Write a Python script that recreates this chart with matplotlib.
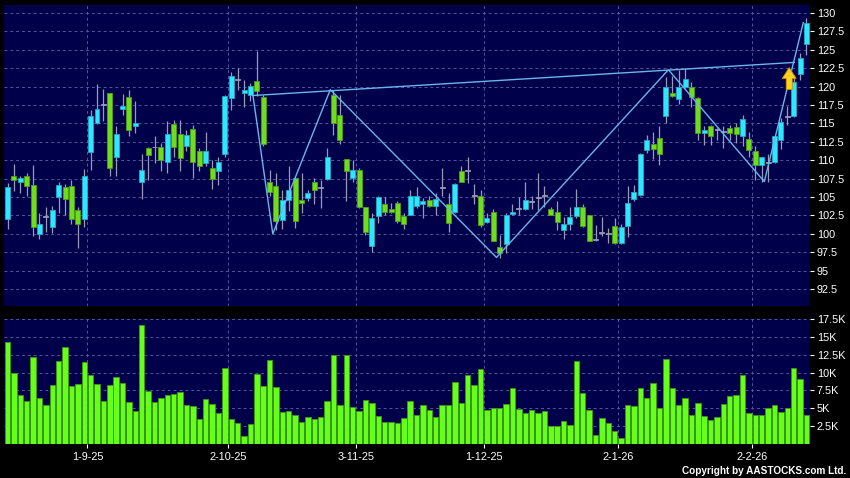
import numpy as np
import matplotlib
matplotlib.use('Agg')
import matplotlib.pyplot as plt
from matplotlib.ticker import FixedLocator, FuncFormatter

plt.rcParams['font.family'] = ['Liberation Sans', 'DejaVu Sans']

# daily OHLC (126 trading days)
opens = [102.0, 107.9, 107.1, 107.8, 106.6, 100.0, 102.4, 101.0, 105.0, 106.35,
         106.5, 103.3, 102.0, 111.1, 115.1, 117.6, 119.1, 110.5, 117.0, 118.6,
         114.7, 107.1, 111.65, 111.8, 111.8, 109.75, 114.9, 113.55, 111.9, 114.25,
         111.2, 109.6, 108.9, 108.6, 110.9, 118.45, 120.95, 119.15, 118.9, 120.8,
         118.6, 107.0, 106.45, 101.9, 104.65, 107.6, 104.65, 104.85, 107.0, 106.3,
         107.45, 118.9, 116.2, 110.15, 107.6, 108.7, 103.6, 98.3, 102.45, 104.0,
         103.35, 104.2, 102.4, 102.6, 103.8, 104.0, 104.65, 103.8, 106.3, 104.0,
         102.95, 108.6, 108.6, 105.2, 105.2, 101.6, 102.95, 98.2, 98.6, 102.7,
         103.5, 103.35, 104.4, 105.0, 105.2, 103.35, 103.0, 100.5, 101.4, 102.4,
         103.7, 102.5, 99.2, 100.2, 100.0, 101.1, 98.8, 101.1, 104.7, 105.3,
         111.35, 112.25, 113.0, 115.95, 119.2, 118.3, 120.0, 120.0, 118.45, 113.7,
         114.6, 114.15, 113.9, 114.4, 114.5, 113.25, 112.9, 111.2, 109.4, 109.7,
         109.7, 112.8, 116.0, 116.0, 121.75, 125.8]
highs = [106.9, 109.5, 107.8, 108.3, 109.4, 102.8, 103.6, 103.8, 107.0, 106.8,
         107.35, 103.7, 108.8, 116.9, 120.4, 119.7, 119.2, 114.6, 119.0, 119.6,
         118.1, 110.9, 111.75, 113.25, 112.4, 115.4, 115.5, 115.5, 114.15, 114.8,
         111.65, 113.9, 110.1, 110.5, 118.9, 122.05, 122.5, 120.95, 120.5, 124.8,
         118.9, 108.7, 108.25, 106.0, 109.25, 107.8, 108.25, 105.9, 107.6, 107.35,
         111.65, 119.6, 118.9, 110.2, 110.1, 108.9, 103.7, 102.8, 105.1, 105.0,
         104.2, 104.4, 102.8, 106.0, 106.35, 104.85, 105.1, 105.5, 108.9, 105.5,
         106.9, 109.25, 110.5, 106.8, 106.0, 102.8, 103.4, 99.9, 102.9, 104.0,
         105.0, 107.1, 105.1, 108.25, 106.5, 103.7, 104.4, 102.3, 103.6, 106.1,
         104.1, 102.6, 101.2, 102.3, 100.8, 102.15, 101.4, 106.5, 106.7, 111.0,
         113.45, 113.9, 114.6, 121.3, 121.5, 122.3, 122.5, 120.7, 118.6, 114.6,
         114.8, 114.4, 114.6, 114.8, 115.1, 116.2, 113.9, 111.9, 110.5, 110.9,
         113.45, 115.7, 117.4, 121.6, 124.6, 129.3]
lows = [100.65, 105.8, 105.5, 105.2, 99.75, 99.3, 100.2, 100.1, 102.8, 102.5,
        101.4, 98.1, 101.0, 108.7, 114.9, 115.3, 107.9, 107.8, 116.2, 113.3,
        113.7, 104.7, 107.35, 109.6, 108.6, 108.25, 110.5, 108.6, 111.2, 107.6,
        108.5, 109.2, 106.1, 106.7, 110.5, 116.85, 119.6, 117.2, 118.0, 118.7,
        111.9, 105.1, 100.55, 100.65, 103.05, 100.8, 102.8, 104.4, 104.1, 103.5,
        107.35, 113.5, 112.25, 104.4, 107.1, 103.5, 99.9, 97.6, 101.5, 102.6,
        102.8, 101.5, 100.65, 102.5, 103.5, 102.15, 103.7, 102.6, 105.1, 100.2,
        102.8, 107.0, 106.9, 104.1, 101.0, 101.5, 99.0, 96.7, 97.4, 102.5,
        102.6, 103.3, 103.4, 103.3, 103.7, 102.5, 100.55, 99.3, 100.5, 102.15,
        101.0, 99.0, 99.0, 99.65, 98.8, 98.65, 98.65, 99.6, 104.4, 105.2,
        111.0, 110.15, 109.4, 115.05, 118.6, 117.7, 119.8, 117.3, 112.8, 112.1,
        112.1, 112.8, 111.65, 112.8, 112.3, 111.9, 110.5, 107.35, 107.0, 107.1,
        109.6, 111.5, 114.8, 115.9, 120.95, 124.3]
closes = [106.4, 107.3, 107.6, 106.45, 101.0, 101.3, 102.4, 103.3, 106.6, 104.7,
          102.0, 101.3, 107.9, 116.05, 117.0, 117.6, 108.9, 113.6, 117.4, 114.15,
          115.05, 108.7, 110.7, 111.8, 110.1, 113.55, 111.8, 110.3, 113.45, 109.75,
          109.25, 111.2, 107.5, 109.7, 118.7, 121.4, 120.95, 119.6, 120.1, 119.35,
          112.25, 105.75, 101.7, 104.65, 106.0, 101.7, 104.2, 105.55, 105.9, 106.3,
          110.4, 115.05, 112.7, 108.5, 108.7, 103.6, 100.2, 102.15, 105.0, 103.0,
          103.0, 101.7, 101.4, 105.2, 105.2, 104.5, 103.8, 104.7, 106.3, 101.5,
          106.8, 107.1, 108.6, 105.2, 101.15, 102.15, 99.05, 97.4, 102.6, 103.0,
          103.5, 104.6, 104.4, 105.0, 105.2, 102.6, 101.55, 101.4, 102.3, 103.7,
          101.1, 99.1, 99.2, 100.2, 100.0, 98.8, 101.0, 104.2, 105.75, 110.9,
          112.7, 111.6, 110.9, 119.95, 118.7, 119.95, 121.0, 118.6, 113.7, 114.05,
          113.25, 114.15, 113.9, 113.7, 113.6, 115.6, 111.35, 109.4, 110.4, 109.7,
          113.25, 115.15, 116.0, 120.7, 123.9, 128.65]

# volume in thousands of shares
volumes_k = [14.25, 10.0, 6.84, 6.09, 12.15, 6.51, 5.53, 8.28, 11.63, 13.6,
             8.19, 8.37, 11.55, 9.73, 8.42, 6.09, 8.33, 9.44, 8.51, 5.95,
             4.69, 16.73, 7.49, 5.9, 6.42, 6.93, 7.07, 7.3, 5.49, 5.39,
             3.57, 6.28, 5.58, 4.32, 10.6, 3.57, 2.97, 1.1, 2.83, 9.77,
             8.09, 11.78, 7.95, 4.46, 4.69, 4.04, 3.15, 3.85, 3.53, 3.76,
             6.09, 12.44, 5.53, 12.44, 5.16, 4.69, 6.23, 5.81, 3.9, 3.15,
             3.1, 3.0, 3.62, 6.09, 4.13, 5.5, 4.7, 3.8, 5.4, 5.4,
             8.7, 5.8, 9.6, 8.3, 10.5, 4.8, 5.0, 5.0, 5.6, 7.9,
             4.9, 4.4, 4.7, 4.4, 4.6, 2.5, 2.5, 3.2, 2.6, 11.6,
             7.2, 4.8, 1.2, 3.6, 3.0, 1.8, 0.9, 5.4, 5.3, 7.9,
             6.4, 8.5, 5.1, 11.9, 7.9, 5.5, 6.5, 4.1, 5.8, 3.9,
             3.3, 3.8, 5.6, 6.7, 6.8, 9.7, 4.3, 4.0, 4.0, 5.1,
             5.5, 4.5, 5.1, 10.7, 9.1, 4.1]

# first trading day of each month and its label
month_first_idx = [13, 35, 55, 75, 96, 117]
date_labels = ['1-9-25', '2-10-25', '3-11-25', '1-12-25', '2-1-26', '2-2-26']

price_ticks = [92.5, 95, 97.5, 100, 102.5, 105, 107.5, 110, 112.5, 115,
               117.5, 120, 122.5, 125, 127.5, 130]
vol_ticks = [2.5, 5, 7.5, 10, 12.5, 15, 17.5]

# pattern lines drawn by the chart (zigzag + neckline) and breakout signal
zigzag_idx = [38.4, 41.5, 50.5, 76.5, 103.4, 118.4, 124.5]
zigzag_px = [118.8, 100.0, 119.6, 96.8, 122.3, 107.1, 128.7]
neck_idx = [38.4, 123.1]
neck_px = [118.8, 123.3]
signal_idx = 122.3
signal_lo = 119.6
signal_hi = 122.6

BG = '#00004a'
UP = '#2fe6ff'
DOWN = '#6fdc1e'
WICK = '#9a9ab8'
GRID = '#55559a'

o = np.array(opens)
h = np.array(highs)
l = np.array(lows)
c = np.array(closes)
x = np.arange(len(o))

fig = plt.figure(figsize=(8.5, 4.78), dpi=100, facecolor='black')
ax = fig.add_axes([4 / 850, 1 - 306 / 478, 806 / 850, 301 / 478], facecolor=BG)
axv = fig.add_axes([4 / 850, 1 - 444 / 478, 806 / 850, 125 / 478], facecolor=BG, sharex=ax)

grid_x = [m - 0.5 for m in month_first_idx]

# price panel
ax.vlines(x, l, h, color=WICK, lw=0.9, zorder=2)
body_lo = np.minimum(o, c)
body_h = np.abs(c - o)
cols = np.where(c > o, UP, np.where(c < o, DOWN, WICK))
edges = np.where(c > o, '#24a9c4', np.where(c < o, '#4f9e18', WICK))
ax.bar(x, np.maximum(body_h, 0.12), bottom=np.where(body_h < 0.05, body_lo - 0.06, body_lo),
       width=0.78, color=cols, edgecolor=edges, linewidth=0.6, zorder=3)

ax.plot(zigzag_idx, zigzag_px, color='#6ab6ea', lw=1.0, zorder=4)
ax.plot(neck_idx, neck_px, color='#6ab6ea', lw=1.0, zorder=4)
ax.arrow(signal_idx, signal_lo, 0, signal_hi - signal_lo, width=0.95, head_width=2.2,
         head_length=1.5, length_includes_head=True, fc='#ffd21f', ec='#c88a00',
         lw=0.6, zorder=5)

ax.set_xlim(-0.55, len(o) - 0.45)
ax.set_ylim(90.2, 131.1)
ax.yaxis.tick_right()
ax.yaxis.set_major_locator(FixedLocator(price_ticks))
ax.yaxis.set_major_formatter(FuncFormatter(lambda v, p: f'{v:g}'))
ax.set_xticks(grid_x)
ax.tick_params(axis='x', which='both', length=0, labelbottom=False)
ax.tick_params(axis='y', colors='white', labelsize=7.8, length=3, width=0.8, pad=2)
ax.grid(True, color=GRID, ls=(0, (3, 3)), lw=0.7)
ax.set_axisbelow(True)
for s in ax.spines.values():
    s.set_visible(False)

# volume panel
axv.bar(x, volumes_k, width=0.85, color='#66ff1a', edgecolor='#3c9a12', linewidth=0.6, zorder=3)
axv.set_ylim(0, 17.5)
axv.yaxis.tick_right()
axv.yaxis.set_major_locator(FixedLocator(vol_ticks))
axv.yaxis.set_major_formatter(FuncFormatter(lambda v, p: f'{v:g}K'))
axv.set_xticks(grid_x)
axv.set_xticklabels(date_labels)
axv.tick_params(axis='x', colors='white', labelsize=7.8, length=3, width=0.8, pad=3)
axv.tick_params(axis='y', colors='white', labelsize=7.8, length=3, width=0.8, pad=2)
axv.grid(True, color=GRID, ls=(0, (3, 3)), lw=0.7)
axv.set_axisbelow(True)
for s in axv.spines.values():
    s.set_visible(False)

fig.text(846 / 850, 1 - 471 / 478, 'Copyright by AASTOCKS.com Ltd.', color='white',
         fontsize=7.2, fontweight='bold', ha='right', va='center')

fig.savefig('out.png', dpi=100, facecolor='black')
